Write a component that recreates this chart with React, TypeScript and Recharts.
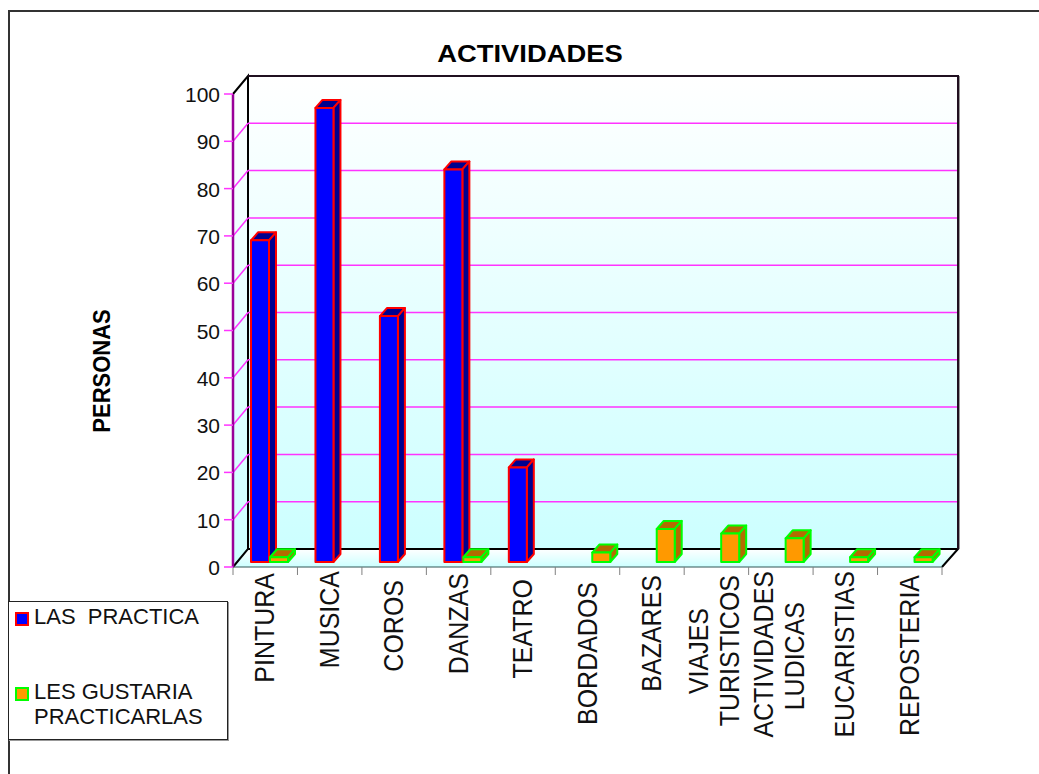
import { BarChart, Bar, XAxis, YAxis, CartesianGrid, Legend } from 'recharts';

const categories = [
  'PINTURA',
  'MUSICA',
  'COROS',
  'DANZAS',
  'TEATRO',
  'BORDADOS',
  'BAZARES',
  'VIAJES TURISTICOS',
  'ACTIVIDADES LUDICAS',
  'EUCARISTIAS',
  'REPOSTERIA',
];
const lasPractica = [68, 96, 52, 83, 20, null, null, null, null, null, null];
const lesGustaria = [1, null, null, 1, null, 2, 7, 6, 5, 1, 1];
const yTicks = [0, 10, 20, 30, 40, 50, 60, 70, 80, 90, 100];

const data = categories.map((name, i) => ({
  name,
  practica: lasPractica[i],
  gustaria: lesGustaria[i],
}));

const FONT = '"Liberation Sans", Arial, sans-serif';
const WIDTH = 1039;
const HEIGHT = 774;

// front plane of the 3D box and how far the back wall is pushed away
const LEFT = 233;
const RIGHT = 942;
const TOP = 94;
const BOTTOM = 567;
const DEPTH_X = 15;
const DEPTH_Y = 18;
const BAND = (RIGHT - LEFT) / categories.length;

// where each rotated label starts, they are not centred evenly
const labelTops = [573, 571, 580, 573, 579, 582, 575, 575, 571, 571, 575];
const labelLines = [
  ['PINTURA'],
  ['MUSICA'],
  ['COROS'],
  ['DANZAS'],
  ['TEATRO'],
  ['BORDADOS'],
  ['BAZARES'],
  ['VIAJES', 'TURISTICOS'],
  ['ACTIVIDADES', 'LUDICAS'],
  ['EUCARISTIAS'],
  ['REPOSTERIA'],
];
const secondLineTops: Record<number, [number, number]> = { 7: [608, 575], 8: [571, 602] };

// side wall, back wall and floor sit behind the chart's transparent svg
function Walls() {
  const backL = LEFT + DEPTH_X;
  const backR = RIGHT + DEPTH_X + 1;
  const backT = TOP - DEPTH_Y;
  const backB = BOTTOM - DEPTH_Y;
  return (
    <svg width={WIDTH} height={HEIGHT} style={{ position: 'absolute', left: 0, top: 0 }}>
      <defs>
        <linearGradient id="wallFill" x1="0" y1="0" x2="0" y2="1">
          <stop offset="0%" stopColor="#ffffff" />
          <stop offset="100%" stopColor="#ccffff" />
        </linearGradient>
      </defs>
      <rect x={backL} y={backT} width={backR - backL} height={backB - backT} fill="url(#wallFill)" />
      <polygon
        points={`${LEFT},${TOP} ${backL},${backT} ${backL},${backB} ${LEFT},${BOTTOM}`}
        fill="url(#wallFill)"
      />
      <polygon
        points={`${LEFT},${BOTTOM} ${backL},${backB} ${backR},${backB} ${RIGHT},${BOTTOM}`}
        fill="url(#wallFill)"
      />
      <path
        d={`M${LEFT},${TOP} L${backL},${backT} L${backL},${backB} L${LEFT},${BOTTOM} M${backL},${backB} L${backR},${backB} L${RIGHT},${BOTTOM}`}
        fill="none"
        stroke="#000"
        strokeWidth={2}
      />
      <path d={`M${backL},${backT} L${backR},${backT} L${backR},${backB}`} fill="none" stroke="#201020" strokeWidth={2} />
      <line x1={backR + 1.5} y1={backT} x2={backR + 1.5} y2={backB} stroke="#999" />
      <line x1={LEFT} y1={BOTTOM} x2={RIGHT} y2={BOTTOM} stroke="#335555" />
      <text
        transform="translate(530,62) scale(1.14,1)"
        textAnchor="middle"
        fontFamily={FONT}
        fontWeight="bold"
        fontSize={24}
      >
        ACTIVIDADES
      </text>
      <text
        transform="translate(110,371) rotate(-90) scale(1,1.1)"
        textAnchor="middle"
        fontFamily={FONT}
        fontWeight="bold"
        fontSize={22}
      >
        PERSONAS
      </text>
    </svg>
  );
}

function backLine(props: any) {
  const { y1, index } = props;
  if (y1 >= BOTTOM - 1 || y1 <= TOP + 1) return <g key={index} />;
  return (
    <g key={index} stroke="#ff33ff" strokeWidth={1.5}>
      <line x1={LEFT} y1={y1} x2={LEFT + DEPTH_X} y2={y1 - DEPTH_Y} />
      <line x1={LEFT + DEPTH_X} y1={y1 - DEPTH_Y} x2={RIGHT + DEPTH_X} y2={y1 - DEPTH_Y} />
    </g>
  );
}

function YTick({ y, payload }: any) {
  return (
    <g>
      <line x1={224} y1={y} x2={LEFT} y2={y} stroke="#ff33ff" strokeWidth={1.5} />
      <text x={220} y={y + 8} textAnchor="end" fontFamily={FONT} fontSize={21} fill="#111">
        {payload.value}
      </text>
    </g>
  );
}

function XTick({ x, index }: any) {
  const lines = labelLines[index];
  const tickX = x - BAND / 2;
  const two = lines.length === 2;
  return (
    <g>
      <line x1={tickX} y1={BOTTOM} x2={tickX} y2={575} stroke="#808080" />
      {index === categories.length - 1 && (
        <line x1={x + BAND / 2} y1={BOTTOM} x2={x + BAND / 2} y2={575} stroke="#808080" />
      )}
      {lines.map((line: string, i: number) => {
        const top = two ? secondLineTops[index][i] : labelTops[index];
        const cx = two ? x + (i === 0 ? -18 : 13) : x - 1;
        return (
          <text
            key={line}
            transform={`translate(${cx + 10},${top}) rotate(-90) scale(1,1.1)`}
            textAnchor="end"
            fontFamily={FONT}
            fontSize={25}
            fill="#111"
          >
            {line}
          </text>
        );
      })}
    </g>
  );
}

// box-like bar: front face plus a darker top and side
function Box3D({ x, y, width, height, fill, dark, edge }: any) {
  if (!height || height <= 0) return <g />;
  const left = x + 5;
  const right = left + width - 1;
  const top = y - 5;
  const bottom = y + height - 5;
  const dx = 7;
  const dy = 8;
  return (
    <g stroke={edge} strokeWidth={2} strokeLinejoin="round">
      <polygon
        points={`${left},${top} ${left + dx},${top - dy} ${right + dx},${top - dy} ${right},${top}`}
        fill={dark}
      />
      <polygon
        points={`${right},${top} ${right + dx},${top - dy} ${right + dx},${bottom - dy} ${right},${bottom}`}
        fill={dark}
      />
      <rect x={left} y={top} width={right - left} height={bottom - top} fill={fill} />
    </g>
  );
}

const legendEdges = ['#ff0000', '#00ff00'];
const legendTops = [10, 85];

function LegendBox({ payload }: any) {
  return (
    <div
      style={{
        position: 'relative',
        width: 218,
        height: 137,
        background: '#fff',
        border: '1px solid #222',
        boxShadow: '1px 1px 0 #999',
        fontFamily: FONT,
      }}
    >
      {(payload ?? []).map((item: any, i: number) => (
        <div key={item.value}>
          <div
            style={{
              position: 'absolute',
              left: 6,
              top: legendTops[i],
              width: 10,
              height: 10,
              background: item.color,
              border: `2px solid ${legendEdges[i]}`,
            }}
          />
          <div
            style={{
              position: 'absolute',
              left: 25,
              top: legendTops[i] - 8,
              width: 190,
              fontSize: 22,
              lineHeight: '25px',
              whiteSpace: 'pre-wrap',
              color: '#111',
            }}
          >
            {item.value}
          </div>
        </div>
      ))}
    </div>
  );
}

export default function App() {
  return (
    <div style={{ position: 'absolute', left: 0, top: 0, width: WIDTH, height: HEIGHT, background: '#fff', overflow: 'hidden' }}>
      <div
        style={{
          position: 'absolute',
          left: 8,
          top: 10,
          width: WIDTH,
          height: HEIGHT,
          borderLeft: '2px solid #333',
          borderTop: '2px solid #333',
        }}
      />
      <Walls />
      <div style={{ position: 'absolute', left: 0, top: 0 }}>
        <BarChart
          width={WIDTH}
          height={HEIGHT}
          data={data}
          margin={{ top: TOP, right: WIDTH - RIGHT, bottom: 0, left: 0 }}
          barSize={19}
          barGap={0}
        >
          <CartesianGrid vertical={false} horizontal={backLine} />
          <XAxis
            dataKey="name"
            height={HEIGHT - BOTTOM}
            interval={0}
            axisLine={false}
            tickLine={false}
            tick={<XTick />}
          />
          <YAxis
            domain={[0, 100]}
            ticks={yTicks}
            width={LEFT}
            axisLine={{ stroke: '#990099', strokeWidth: 2.5 }}
            tickLine={false}
            tick={<YTick />}
          />
          <Bar
            dataKey="practica"
            name="LAS  PRACTICA"
            fill="#0000ff"
            isAnimationActive={false}
            shape={(p: any) => <Box3D {...p} fill="#0000ff" dark="#00008f" edge="#ff0000" />}
          />
          <Bar
            dataKey="gustaria"
            name="LES GUSTARIA PRACTICARLAS"
            fill="#ff9900"
            isAnimationActive={false}
            shape={(p: any) => <Box3D {...p} fill="#ff9900" dark="#b36b00" edge="#00ff00" />}
          />
          <Legend
            layout="horizontal"
            verticalAlign="middle"
            align="center"
            content={<LegendBox />}
            wrapperStyle={{ left: 8, top: 601, width: 220, height: 139, bottom: 'auto' }}
          />
        </BarChart>
      </div>
    </div>
  );
}
